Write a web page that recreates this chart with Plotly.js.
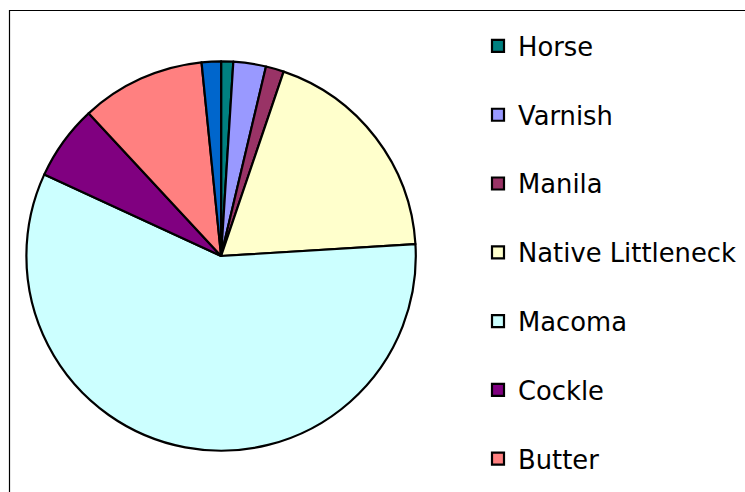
<!DOCTYPE html>
<html>
<head>
<meta charset="utf-8">
<script src="https://cdn.plot.ly/plotly-3.0.1.min.js"></script>
<style>
  html, body { margin: 0; padding: 0; overflow: hidden; background: #ffffff; }
  #chart { width: 745px; height: 640px; }
</style>
</head>
<body>
<div id="chart"></div>
<script>
// Data (percent of total, clockwise from 12 o'clock)
const categories = ["Horse", "Varnish", "Manila", "Native Littleneck", "Macoma", "Cockle", "Butter", "Softshell"];
const values = [1.0, 2.7, 1.5, 18.8, 57.8, 6.2, 10.3, 1.6];
const colors = ["#008080", "#9999FF", "#993366", "#FFFFCC", "#CCFFFF", "#800080", "#FF8080", "#0066CC"];

const W = 745, H = 640;
// pie box in pixels
const pieLeft = 26.4, pieRight = 415.8, pieTop = 61.3, pieBottom = 450.7;

const legendLabels = categories.map(c => '<span style="font-size:25.8px">' + c + '</span><br> ');

const trace = {
  type: "pie",
  labels: legendLabels,
  values: values,
  sort: false,
  direction: "clockwise",
  rotation: 0,
  textinfo: "none",
  hoverinfo: "none",
  marker: { colors: colors, line: { color: "#000000", width: 2.2 } },
  domain: {
    x: [pieLeft / W, pieRight / W],
    y: [1 - pieBottom / H, 1 - pieTop / H]
  }
};

const layout = {
  width: W,
  height: H,
  margin: { l: 0, r: 0, t: 0, b: 0, pad: 0 },
  paper_bgcolor: "#ffffff",
  showlegend: true,
  legend: {
    x: 478 / W,
    xanchor: "left",
    y: 1 - 23 / H,
    yanchor: "top",
    valign: "top",
    font: { family: "DejaVu Sans, Verdana, sans-serif", size: 25.3, color: "#000000" },
    bgcolor: "rgba(0,0,0,0)",
    borderwidth: 0
  },
  shapes: [{
    type: "rect",
    xref: "paper", yref: "paper",
    x0: 9.5 / W, x1: 1.2,
    y0: 1 - 10.5 / H, y1: -0.2,
    line: { color: "#000000", width: 1.2 },
    fillcolor: "rgba(0,0,0,0)",
    layer: "below"
  }]
};

Plotly.newPlot("chart", [trace], layout, { displayModeBar: false, staticPlot: true });
</script>
</body>
</html>
